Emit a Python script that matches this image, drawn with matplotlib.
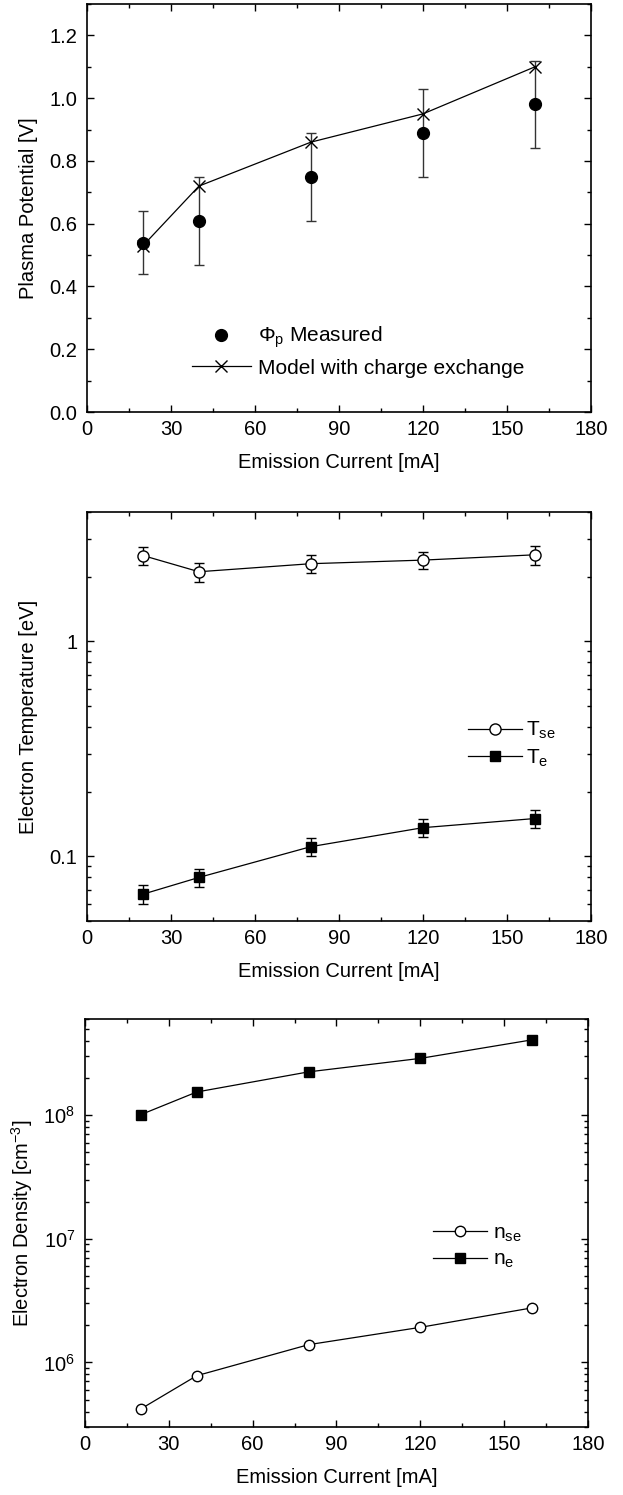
import numpy as np
import matplotlib
matplotlib.use("Agg")
import matplotlib.pyplot as plt
from matplotlib.lines import Line2D
from matplotlib.ticker import MultipleLocator, LogLocator, FixedLocator, FixedFormatter, NullFormatter, FormatStrFormatter

plt.rcParams['font.family'] = ['Liberation Sans', 'DejaVu Sans']
plt.rcParams['mathtext.fontset'] = 'custom'
plt.rcParams['mathtext.rm'] = 'Liberation Sans'
plt.rcParams['mathtext.it'] = 'Liberation Sans:italic'
plt.rcParams['font.size'] = 14.5

# emission current [mA]
current = [20, 40, 80, 120, 160]

# plasma potential
phi_meas = [0.54, 0.61, 0.75, 0.89, 0.98]
phi_err = [0.10, 0.14, 0.14, 0.14, 0.14]
phi_model = [0.53, 0.72, 0.86, 0.95, 1.10]

# electron temperature [eV]
T_se = [2.51, 2.11, 2.30, 2.39, 2.53]
T_se_err = [0.24, 0.21, 0.22, 0.22, 0.25]
T_e = [0.0667, 0.0798, 0.111, 0.136, 0.150]
T_e_err = [0.0068, 0.0079, 0.011, 0.013, 0.015]

# electron density [cm^-3]
n_se = [4.2e5, 7.8e5, 1.39e6, 1.92e6, 2.76e6]
n_e = [1.01e8, 1.54e8, 2.24e8, 2.88e8, 4.07e8]

fig = plt.figure(figsize=(6.23, 14.95), dpi=100)
ax1 = fig.add_axes([0.1396, 0.7244, 0.809, 0.2729])
ax2 = fig.add_axes([0.1396, 0.3839, 0.809, 0.2736])
ax3 = fig.add_axes([0.1364, 0.0455, 0.8074, 0.2729])

for ax in (ax1, ax2, ax3):
    ax.set_xlim(0, 180)
    ax.xaxis.set_major_locator(MultipleLocator(30))
    ax.xaxis.set_minor_locator(MultipleLocator(15))
    ax.tick_params(which='both', direction='in', top=True, right=True, width=1.0)
    ax.tick_params(which='major', length=5, labelsize=14.5)
    ax.tick_params(axis='x', which='major', pad=6)
    ax.tick_params(axis='y', which='major', pad=7)
    ax.tick_params(which='minor', length=3)
    for s in ax.spines.values():
        s.set_linewidth(1.2)
    ax.set_xlabel('Emission Current [mA]', labelpad=10)

# top panel
ax1.errorbar(current, phi_meas, yerr=phi_err, fmt='o', color='black', ms=8.5,
             ecolor='#333333', elinewidth=1, capsize=3.5, capthick=1)
ax1.plot(current, phi_model, '-x', color='black', lw=0.9, ms=8.5, mew=1)
ax1.set_ylim(0, 1.3)
ax1.yaxis.set_major_locator(MultipleLocator(0.2))
ax1.yaxis.set_minor_locator(MultipleLocator(0.1))
ax1.yaxis.set_major_formatter(FormatStrFormatter('%.1f'))
ax1.set_ylabel('Plasma Potential [V]')
ax1.yaxis.set_label_coords(-0.098, 0.5)
h1 = [Line2D([], [], ls='none', marker='o', color='black', ms=8.5),
      Line2D([], [], ls='-', lw=0.9, marker='x', color='black', ms=8.5, mew=1)]
ax1.legend(h1, [r'$\Phi_{\mathrm{p}}$ Measured', 'Model with charge exchange'],
           loc='center left', bbox_to_anchor=(0.209, 0.149), frameon=False,
           handlelength=2.8, handletextpad=0.35, labelspacing=0.4,
           borderpad=0, borderaxespad=0, fontsize=15)

# middle panel
ax2.set_yscale('log')
ax2.errorbar(current, T_se, yerr=T_se_err, fmt='-o', color='black', mfc='white',
             ms=8, lw=0.9, elinewidth=1, capsize=3.5, capthick=1)
ax2.errorbar(current, T_e, yerr=T_e_err, fmt='-s', color='black',
             ms=6.5, lw=0.9, elinewidth=1, capsize=3.5, capthick=1)
ax2.set_ylim(0.05, 4)
ax2.yaxis.set_major_locator(FixedLocator([0.1, 1]))
ax2.yaxis.set_major_formatter(FixedFormatter(['0.1', '1']))
ax2.yaxis.set_minor_locator(LogLocator(base=10, subs=np.arange(2, 10)))
ax2.yaxis.set_minor_formatter(NullFormatter())
ax2.set_ylabel('Electron Temperature [eV]')
ax2.yaxis.set_label_coords(-0.098, 0.5)
h2 = [Line2D([], [], ls='-', lw=0.9, marker='o', color='black', mfc='white', ms=8),
      Line2D([], [], ls='-', lw=0.9, marker='s', color='black', ms=6.5)]
ax2.legend(h2, [r'T$_{\mathrm{se}}$', r'T$_{\mathrm{e}}$'],
           loc='center left', bbox_to_anchor=(0.756, 0.432), frameon=False,
           handlelength=2.6, handletextpad=0.2, labelspacing=0.3,
           borderpad=0, borderaxespad=0, fontsize=15)

# bottom panel
ax3.set_yscale('log')
ax3.plot(current, n_se, '-o', color='black', mfc='white', ms=7.5, lw=0.9)
ax3.plot(current, n_e, '-s', color='black', ms=6.5, lw=0.9)
ax3.set_ylim(3e5, 6e8)
ax3.yaxis.set_major_locator(LogLocator(base=10))
ax3.yaxis.set_minor_locator(LogLocator(base=10, subs=np.arange(2, 10)))
ax3.yaxis.set_minor_formatter(NullFormatter())
ax3.set_ylabel(r'Electron Density [cm$^{-3}$]')
ax3.yaxis.set_label_coords(-0.100, 0.5)
h3 = [Line2D([], [], ls='-', lw=0.9, marker='o', color='black', mfc='white', ms=7.5),
      Line2D([], [], ls='-', lw=0.9, marker='s', color='black', ms=6.5)]
ax3.legend(h3, [r'n$_{\mathrm{se}}$', r'n$_{\mathrm{e}}$'],
           loc='center left', bbox_to_anchor=(0.692, 0.441), frameon=False,
           handlelength=2.6, handletextpad=0.3, labelspacing=0.3,
           borderpad=0, borderaxespad=0, fontsize=15)

fig.savefig('out.png', dpi=100)
